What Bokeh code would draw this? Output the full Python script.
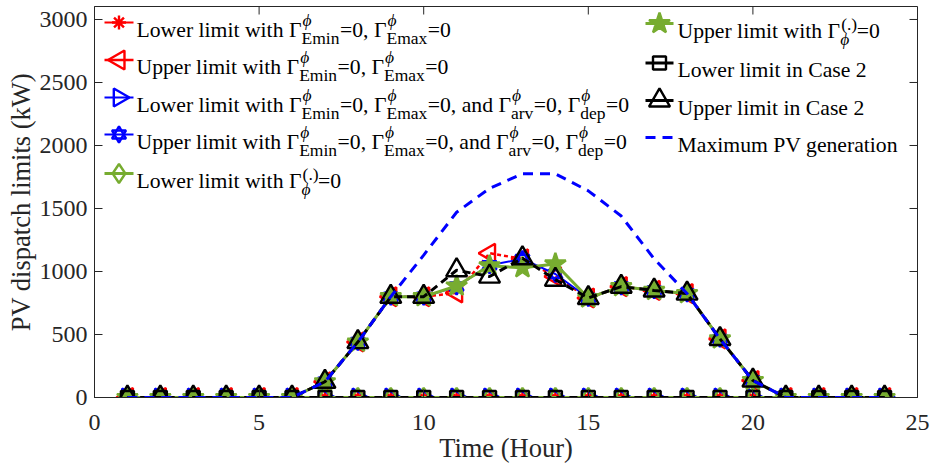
import numpy as np
from bokeh.plotting import figure
from bokeh.models import Range1d, FixedTicker, Label
from bokeh.embed import file_html
from bokeh.resources import INLINE

# ---------------- data ----------------
hours = list(range(1, 25))
lower_emin_emax = [0] * 24
upper_emin_emax = [0, 0, 0, 0, 0, 0, 125, 440, 800, 800, 830, 1145, 1100, 960, 790, 880, 850, 825, 465, 135, 0, 0, 0, 0]
lower_all_zero = [0] * 24
upper_all_zero = [0, 0, 0, 0, 0, 0, 125, 440, 800, 800, 880, 1050, 1100, 980, 790, 880, 850, 825, 465, 135, 0, 0, 0, 0]
lower_gamma_zero = [0] * 24
upper_gamma_zero = [0, 0, 0, 0, 0, 0, 125, 440, 800, 800, 885, 1045, 1030, 1060, 790, 880, 850, 825, 465, 135, 0, 0, 0, 0]
lower_case2 = [0] * 24
upper_case2 = [0, 0, 0, 0, 0, 0, 125, 440, 800, 800, 1010, 960, 1105, 935, 790, 880, 850, 825, 465, 135, 0, 0, 0, 0]
max_pv = [0, 0, 0, 0, 0, 0, 125, 440, 800, 1130, 1470, 1660, 1775, 1775, 1640, 1440, 1100, 825, 465, 135, 0, 0, 0, 0]

x_ticks = [0, 5, 10, 15, 20, 25]
y_ticks = [0, 500, 1000, 1500, 2000, 2500, 3000]
x_title = "Time (Hour)"
y_title = "PV dispatch limits (kW)"

# ---------------- layout constants (canvas px) ----------------
W, H = 930, 468
FRAME_L, FRAME_R, FRAME_T, FRAME_B = 94.0, 917.0, 6.0, 397.0
X_MAX, Y_MAX = 25, 3103
FONT = "Liberation Serif"
AX_COL = "#262626"
RED, BLUE, GREEN, BLACK = "#ff0000", "#0000ff", "#77ac30", "#000000"
MAIN, SUB = 21.7, 17.5
TICK = 8  # px
LEG_DX, LEG_DY = -2, -8

p = figure(width=W, height=H, x_range=Range1d(0, X_MAX), y_range=Range1d(0, Y_MAX),
           output_backend="svg", toolbar_location=None,
           min_border_left=int(FRAME_L), min_border_right=int(W - FRAME_R),
           min_border_top=int(FRAME_T), min_border_bottom=int(H - FRAME_B),
           x_axis_label=x_title, y_axis_label=y_title)
p.grid.visible = False
p.outline_line_color = AX_COL
p.background_fill_color = "white"
p.border_fill_color = "white"

for ax, ticks in ((p.xaxis[0], x_ticks), (p.yaxis[0], y_ticks)):
    ax.ticker = FixedTicker(ticks=ticks)
    ax.major_tick_in = TICK
    ax.major_tick_out = 0
    ax.minor_tick_in = 0
    ax.minor_tick_out = 0
    ax.axis_line_color = AX_COL
    ax.major_tick_line_color = AX_COL
    ax.major_label_text_font = FONT
    ax.major_label_text_font_size = "24px"
    ax.major_label_text_color = AX_COL
    ax.axis_label_text_font = FONT
    ax.axis_label_text_font_size = "26.5px"
    ax.axis_label_text_font_style = "normal"
    ax.axis_label_text_color = AX_COL
p.xaxis[0].major_label_standoff = 17
p.xaxis[0].axis_label_standoff = 0
p.yaxis[0].major_label_standoff = 7
p.yaxis[0].axis_label_standoff = 1

def X(px):
    return (px - FRAME_L) * X_MAX / (FRAME_R - FRAME_L)

def Y(py):
    return (FRAME_B - py) * Y_MAX / (FRAME_B - FRAME_T)

# mirrored inward ticks on top and right (box on)
dx = TICK * X_MAX / (FRAME_R - FRAME_L)
dy = TICK * Y_MAX / (FRAME_B - FRAME_T)
p.segment(x0=x_ticks, y0=[Y_MAX] * len(x_ticks), x1=x_ticks, y1=[Y_MAX - dy] * len(x_ticks),
          line_color=AX_COL, line_width=1)
p.segment(x0=[X_MAX] * len(y_ticks), y0=y_ticks, x1=[X_MAX - dx] * len(y_ticks), y1=y_ticks,
          line_color=AX_COL, line_width=1)

# ---------------- series ----------------
series = [
    dict(y=lower_emin_emax, color=RED, lw=2, dash="solid", marks=[("asterisk", 0, 14, None)]),
    dict(y=upper_emin_emax, color=RED, lw=2.5, dash="4 3", marks=[("triangle", np.pi / 2, 19, None)]),
    dict(y=lower_all_zero, color=BLUE, lw=2, dash="solid", marks=[("triangle", -np.pi / 2, 18, None)]),
    dict(y=upper_all_zero, color=BLUE, lw=2, dash="solid",
         marks=[("triangle", 0, 14, None), ("inverted_triangle", 0, 14, None)]),
    dict(y=lower_gamma_zero, color=GREEN, lw=3, dash="solid", marks=[("diamond", 0, 19, None)]),
    dict(y=upper_gamma_zero, color=GREEN, lw=3, dash="solid", marks=[("star", 0, 22, GREEN)]),
    dict(y=lower_case2, color=BLACK, lw=3, dash="8 5", marks=[("square", 0, 13, None)]),
    dict(y=upper_case2, color=BLACK, lw=3, dash="8 5", marks=[("triangle", 0, 21, None)]),
    dict(y=max_pv, color=BLUE, lw=3, dash="10 7", marks=[]),
]

for s in series:
    p.line(hours, s["y"], line_color=s["color"], line_width=s["lw"], line_dash=s["dash"])
    for mk, ang, size, fill in s["marks"]:
        p.scatter(hours, s["y"], marker=mk, angle=ang, size=size, line_color=s["color"],
                  line_width=2.4, fill_color=fill, fill_alpha=1 if fill else 0)

# ---------------- legend (drawn manually for TeX-like labels) ----------------
PHI = "ϕ"
WID = {' ': 250, '(': 333, ')': 333, '.': 250, ',': 250, '0': 500, '2': 500, '=': 564,
       'C': 667, 'E': 611, 'L': 611, 'M': 889, 'P': 556, 'U': 722, 'V': 722,
       'a': 444, 'd': 500, 'e': 444, 'g': 500, 'h': 500, 'i': 278, 'l': 278, 'm': 778,
       'n': 500, 'o': 500, 'p': 500, 'r': 333, 's': 389, 't': 278, 'u': 500, 'v': 500,
       'w': 722, 'x': 500, 'Γ': 578, PHI: 560}

def tw(t, size):
    return sum(WID.get(c, 500) for c in t) * size / 1000.0

def LX(px):
    return X(px + LEG_DX)

def LY(py):
    return Y(py + LEG_DY)

def lab(text, px, py, size, italic=False):
    p.add_layout(Label(x=LX(px), y=LY(py), text=text, text_font=FONT,
                       text_font_size=f"{size}px", text_baseline="alphabetic",
                       text_align="left", text_color="black",
                       text_font_style="italic" if italic else "normal"))

def place(tokens, x, base):
    for tok in tokens:
        if tok[0] == "t":
            lab(tok[1], x, base, MAIN)
            x += tw(tok[1], MAIN)
        else:
            sub, sup = tok[1], tok[2]
            lab(sub, x, base + 8, SUB, italic=(sub == PHI))
            lab(sup, x + 1, base - (10 if sup == PHI else 7), SUB, italic=(sup == PHI))
            x += max(tw(sub, SUB), tw(sup, SUB)) + 0.5

EE = [("s", "Emin", PHI), ("t", "=0, Γ"), ("s", "Emax", PHI)]
AD = [("t", "=0, and Γ"), ("s", "arv", PHI), ("t", "=0, Γ"), ("s", "dep", PHI), ("t", "=0")]
legend_texts = [
    [("t", "Lower limit with Γ")] + EE + [("t", "=0")],
    [("t", "Upper limit with Γ")] + EE + [("t", "=0")],
    [("t", "Lower limit with Γ")] + EE + AD,
    [("t", "Upper limit with Γ")] + EE + AD,
    [("t", "Lower limit with Γ"), ("s", PHI, "(.)"), ("t", "=0")],
    [("t", "Upper limit with Γ"), ("s", PHI, "(.)"), ("t", "=0")],
    [("t", "Lower limit in Case 2")],
    [("t", "Upper limit in Case 2")],
    [("t", "Maximum PV generation")],
]
col1 = dict(x0=106, x1=135, xm=120.5, xt=138, bases=[37, 74.5, 112, 149, 188])
col2 = dict(x0=647, x1=675, xm=661, xt=679, bases=[38, 77.5, 115, 152])
slots = [(col1, b) for b in col1["bases"]] + [(col2, b) for b in col2["bases"]]

for s, tokens, (col, base) in zip(series, legend_texts, slots):
    yc = base - 7
    dash = "10 7" if not s["marks"] else "solid"
    p.line([LX(col["x0"]), LX(col["x1"])], [LY(yc), LY(yc)], line_color=s["color"],
           line_width=s["lw"], line_dash=dash)
    for mk, ang, size, fill in s["marks"]:
        p.scatter([LX(col["xm"])], [LY(yc)], marker=mk, angle=ang, size=size,
                  line_color=s["color"], line_width=2.4, fill_color=fill,
                  fill_alpha=1 if fill else 0)
    place(tokens, col["xt"], base)

open("out.html", "w").write(file_html(p, INLINE))
